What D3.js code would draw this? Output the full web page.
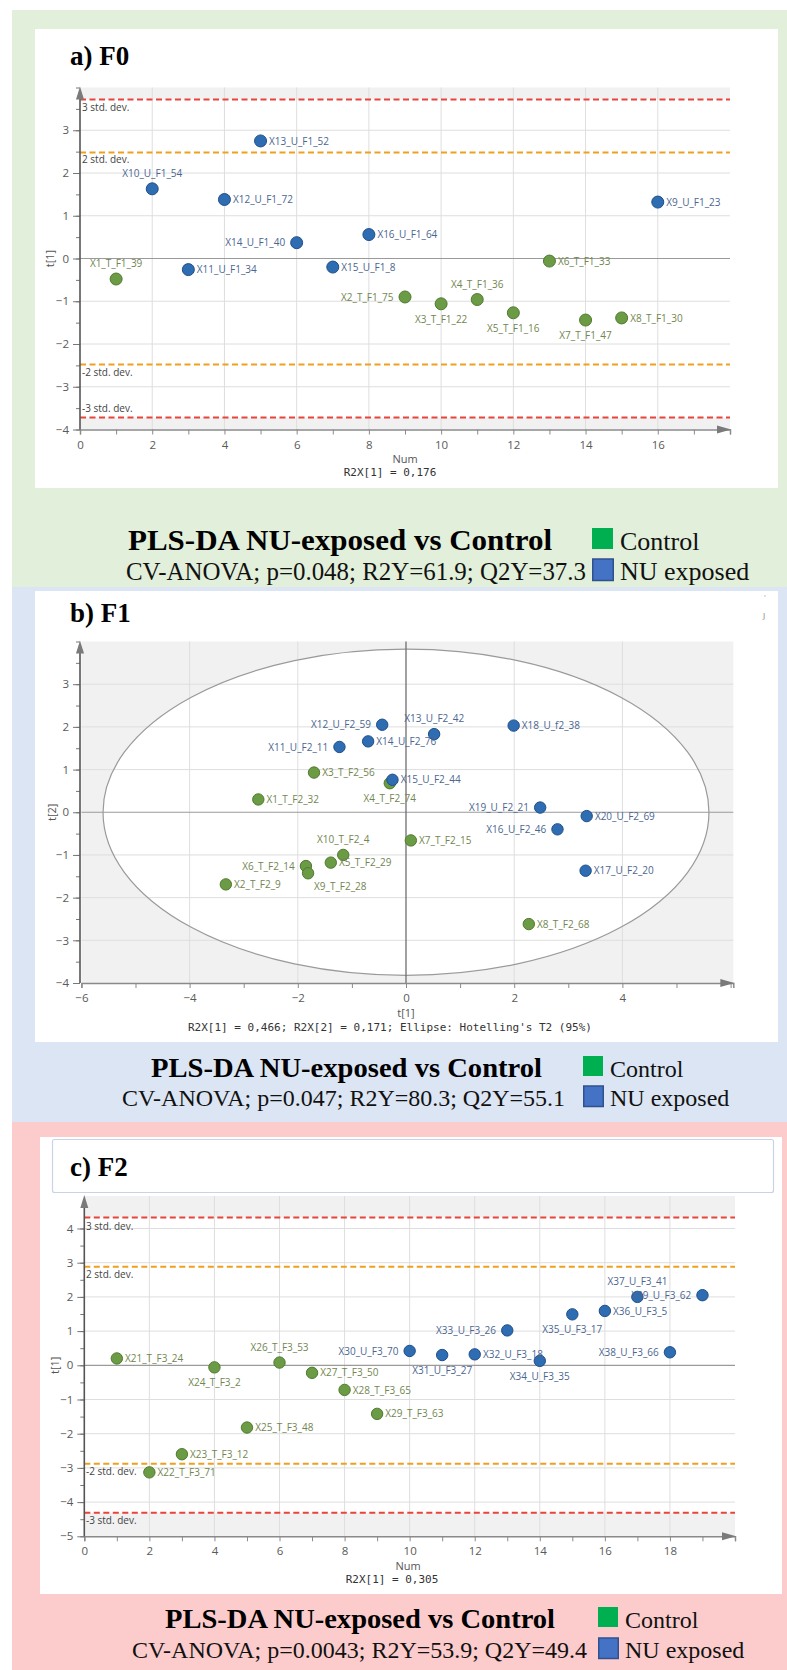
<!DOCTYPE html>
<html><head><meta charset="utf-8">
<script src="https://cdn.jsdelivr.net/npm/d3@7"></script>
<style>body{margin:0;background:#fff}svg{display:block}</style>
</head><body>
<svg id="chart" width="787" height="1670"></svg>
<script>
// ---------------- DATA ----------------
// Panel a) F0 : Num vs t[1]
const obsA   = ["X1_T_F1_39","X10_U_F1_54","X11_U_F1_34","X12_U_F1_72","X13_U_F1_52","X14_U_F1_40","X15_U_F1_8","X16_U_F1_64","X2_T_F1_75","X3_T_F1_22","X4_T_F1_36","X5_T_F1_16","X6_T_F1_33","X7_T_F1_47","X8_T_F1_30","X9_U_F1_23"];
const numA   = [1,2,3,4,5,6,7,8,9,10,11,12,13,14,15,16];
const t1A    = [-0.48,1.63,-0.26,1.38,2.75,0.37,-0.20,0.56,-0.90,-1.06,-0.96,-1.27,-0.06,-1.44,-1.39,1.32];
const groupA = ["Control","NU exposed","NU exposed","NU exposed","NU exposed","NU exposed","NU exposed","NU exposed","Control","Control","Control","Control","Control","Control","Control","NU exposed"];
const sdValuesA = [3.72, 2.48, -2.48, -3.72];
const xTicksA = [0,2,4,6,8,10,12,14,16];
const yTicksA = [-4,-3,-2,-1,0,1,2,3];

// Panel b) F1 : t[1] vs t[2]
const obsB   = ["X1_T_F2_32","X2_T_F2_9","X3_T_F2_56","X4_T_F2_74","X5_T_F2_29","X6_T_F2_14","X7_T_F2_15","X8_T_F2_68","X9_T_F2_28","X10_T_F2_4","X11_U_F2_11","X12_U_F2_59","X13_U_F2_42","X14_U_F2_76","X15_U_F2_44","X16_U_F2_46","X17_U_F2_20","X18_U_f2_38","X19_U_F2_21","X20_U_F2_69"];
const t1B    = [-2.73,-3.33,-1.70,-0.30,-1.39,-1.85,0.09,2.27,-1.81,-1.16,-1.23,-0.44,0.52,-0.70,-0.25,2.80,3.32,1.99,2.48,3.34];
const t2B    = [0.30,-1.69,0.93,0.68,-1.18,-1.26,-0.66,-2.62,-1.43,-1.00,1.53,2.05,1.83,1.66,0.76,-0.40,-1.37,2.03,0.11,-0.09];
const groupB = ["Control","Control","Control","Control","Control","Control","Control","Control","Control","Control","NU exposed","NU exposed","NU exposed","NU exposed","NU exposed","NU exposed","NU exposed","NU exposed","NU exposed","NU exposed"];
const ellipseB = [5.6, 3.82]; // Hotelling's T2 (95%) semi-axes on t[1], t[2]
const xTicksB = [-6,-4,-2,0,2,4];
const yTicksB = [-4,-3,-2,-1,0,1,2,3];

// Panel c) F2 : Num vs t[1]
const obsC   = ["X21_T_F3_24","X22_T_F3_71","X23_T_F3_12","X24_T_F3_2","X25_T_F3_48","X26_T_F3_53","X27_T_F3_50","X28_T_F3_65","X29_T_F3_63","X30_U_F3_70","X31_U_F3_27","X32_U_F3_18","X33_U_F3_26","X34_U_F3_35","X35_U_F3_17","X36_U_F3_5","X37_U_F3_41","X38_U_F3_66","X39_U_F3_62"];
const numC   = [1,2,3,4,5,6,7,8,9,10,11,12,13,14,15,16,17,18,19];
const t1C    = [0.20,-3.13,-2.60,-0.06,-1.82,0.08,-0.22,-0.72,-1.42,0.42,0.30,0.32,1.02,0.13,1.49,1.59,2.00,0.38,2.05];
const groupC = ["Control","Control","Control","Control","Control","Control","Control","Control","Control","NU exposed","NU exposed","NU exposed","NU exposed","NU exposed","NU exposed","NU exposed","NU exposed","NU exposed","NU exposed"];
const sdValuesC = [4.32, 2.88, -2.88, -4.31];
const xTicksC = [0,2,4,6,8,10,12,14,16,18];
const yTicksC = [-5,-4,-3,-2,-1,0,1,2,3,4];

const sdLabels = ["3 std. dev.","2 std. dev.","-2 std. dev.","-3 std. dev."];
const statsText = ["CV-ANOVA; p=0.048; R2Y=61.9; Q2Y=37.3","CV-ANOVA; p=0.047; R2Y=80.3; Q2Y=55.1","CV-ANOVA; p=0.0043; R2Y=53.9; Q2Y=49.4"];
const panelTitles = ["a) F0","b) F1","c) F2"];
const legendLabels = ["Control","NU exposed"];

// ---------------- STYLE (label placement, colours) ----------------
const placeA = ["above","above","right","right","right","left","right","right","left","below","above","below","right","below","right","right"];
const placeB = ["right","right","right","below","right","left","right","right","belowright","above","left","left","above","right","right","left","right","right","left","right"];
const placeC = ["right","right","right","below","right","above","right","right","right","left","below","right","left","below","below","right","above","left","left"];

const fillCol  = {"Control":"#6b9b45","NU exposed":"#2f6db3"};
const strokeCol= {"Control":"#4f7a2f","NU exposed":"#1f4e88"};
const textCol  = {"Control":"#72864f","NU exposed":"#4b6690"};
const SANS = "'Open Sans', 'Noto Sans', sans-serif";
const SERIF = "'Liberation Serif', 'Times New Roman', serif";
const MONO = "'DejaVu Sans Mono', 'Liberation Mono', monospace";

const svg = d3.select("#chart");

// ---------------- BACKGROUND PANELS ----------------
svg.append("rect").attr("x",12).attr("y",10).attr("width",775).attr("height",577).attr("fill","#e2efda");
svg.append("rect").attr("x",12).attr("y",587).attr("width",775).attr("height",535).attr("fill","#dbe5f3");
svg.append("rect").attr("x",12).attr("y",1122).attr("width",775).attr("height",548).attr("fill","#fccccc");
svg.append("rect").attr("x",35).attr("y",29).attr("width",743).attr("height",459).attr("fill","#fff");
svg.append("rect").attr("x",35).attr("y",591).attr("width",743).attr("height",451).attr("fill","#fff");
svg.append("rect").attr("x",40).attr("y",1137).attr("width",742).attr("height",457).attr("fill","#fff");
svg.append("rect").attr("x",52.5).attr("y",1139.5).attr("width",721).attr("height",53).attr("rx",2)
  .attr("fill","#fff").attr("stroke","#c8d4e6").attr("stroke-width",1.2);

// panel titles
[[70,65],[70,622],[70,1176]].forEach((p,i)=>{
  svg.append("text").attr("x",p[0]).attr("y",p[1]).text(panelTitles[i])
    .attr("font-family",SERIF).attr("font-weight","bold").attr("font-size",27).attr("fill","#000");
});
// small stray marks in panel b
svg.append("text").attr("x",764).attr("y",600).text("'").attr("font-family",SANS).attr("font-size",8).attr("fill","#999");
svg.append("text").attr("x",763).attr("y",618).text("J").attr("font-family",SANS).attr("font-size",8).attr("fill","#777");

// ---------------- HELPERS ----------------
function placeLabel(sel, r){
  sel.each(function(){
    const t = d3.select(this);
    const p = t.datum().place;
    if(p==="right"){ t.attr("dx", r+2.5).attr("dy",3.6).attr("text-anchor","start"); }
    else if(p==="left"){ t.attr("dx", -(r+5.5)).attr("dy",3.6).attr("text-anchor","end"); }
    else if(p==="above"){ t.attr("dx",0).attr("dy",-12).attr("text-anchor","middle"); }
    else if(p==="below"){ t.attr("dx",0).attr("dy",19).attr("text-anchor","middle"); }
    else if(p==="belowright"){ t.attr("dx",6).attr("dy",16.5).attr("text-anchor","start"); }
  });
}

function drawAxes(g, x, y, xTicks, yTicks, xMinor, yMinor, yAxisX, xAxisY){
  const x1 = x.range()[1];
  const yTop = y.range()[1];
  const xa = d3.axisBottom(x).tickValues(xMinor).tickSize(5).tickFormat("");
  const gx = g.append("g").attr("transform",`translate(0,${xAxisY})`).call(xa);
  gx.select(".domain").attr("stroke","#8a8a8a").attr("stroke-width",1.5);
  gx.selectAll(".tick line").attr("stroke","#8a8a8a");
  const xl = d3.axisBottom(x).tickValues(xTicks).tickSize(0).tickPadding(11).tickFormat(d3.format("d"));
  const gxl = g.append("g").attr("transform",`translate(0,${xAxisY})`).call(xl);
  gxl.select(".domain").remove();
  gxl.selectAll("text").attr("font-family",SANS).attr("font-size",11.5).attr("fill","#5a5a5a");
  g.append("path").attr("d",`M${x1+1},${xAxisY} L${x1-13},${xAxisY-4} L${x1-13},${xAxisY+4} Z`).attr("fill","#7a7a7a");
  const ya = d3.axisLeft(y).tickValues(yMinor).tickSize(4).tickFormat("");
  const gy = g.append("g").attr("transform",`translate(${yAxisX},0)`).call(ya);
  gy.select(".domain").remove();
  gy.selectAll(".tick line").attr("stroke","#777");
  const yl = d3.axisLeft(y).tickValues(yTicks).tickSize(7).tickPadding(4).tickFormat(d3.format("d"));
  const gyl = g.append("g").attr("transform",`translate(${yAxisX},0)`).call(yl);
  gyl.select(".domain").remove();
  gyl.selectAll(".tick line").attr("stroke","#777");
  gyl.selectAll("text").attr("font-family",SANS).attr("font-size",11.5).attr("fill","#5a5a5a");
  g.append("line").attr("x1",yAxisX).attr("x2",yAxisX).attr("y1",yTop+6).attr("y2",xAxisY)
    .attr("stroke","#555").attr("stroke-width",1.6);
  g.append("path").attr("d",`M${yAxisX},${yTop-1} L${yAxisX-4},${yTop+12} L${yAxisX+4},${yTop+12} Z`).attr("fill","#7a7a7a");
}

function drawPoints(g, x, y, xs, ys, names, groups, places, r){
  const data = names.map((n,i)=>({name:n, xv:xs[i], yv:ys[i], grp:groups[i], place:places[i]}));
  g.selectAll("circle.pt").data(data).join("circle").attr("class","pt")
    .attr("cx",d=>x(d.xv)).attr("cy",d=>y(d.yv)).attr("r",r)
    .attr("fill",d=>fillCol[d.grp]).attr("stroke",d=>strokeCol[d.grp]).attr("stroke-width",1);
  const lab = g.selectAll("text.lab").data(data).join("text").attr("class","lab")
    .attr("x",d=>x(d.xv)).attr("y",d=>y(d.yv)).text(d=>d.name)
    .attr("font-family",SANS).attr("font-size",10).attr("fill",d=>textCol[d.grp]);
  placeLabel(lab, r);
}

function range(a,b,s){ const out=[]; for(let v=a; v<=b+1e-9; v+=s) out.push(+v.toFixed(4)); return out; }

function drawStdPanel(cfg){
  const g = svg.append("g");
  const x = d3.scaleLinear().domain(cfg.xDomain).range(cfg.xRange);
  const y = d3.scaleLinear().domain(cfg.yDomain).range(cfg.yRange);
  const [px0,px1] = cfg.xRange, pyB = cfg.yRange[0], pyT = cfg.yRange[1];
  g.append("rect").attr("x",px0).attr("y",pyT).attr("width",px1-px0).attr("height",pyB-pyT).attr("fill","#f1f1f1");
  g.append("rect").attr("x",px0).attr("y",y(cfg.sd[0])).attr("width",px1-px0).attr("height",y(cfg.sd[3])-y(cfg.sd[0])).attr("fill","#fff");
  g.selectAll("line.gv").data(cfg.xTicks.filter(v=>v>cfg.xDomain[0])).join("line")
    .attr("x1",d=>x(d)).attr("x2",d=>x(d)).attr("y1",pyT).attr("y2",pyB).attr("stroke","#dedede");
  g.selectAll("line.gh").data(cfg.yTicks.filter(v=>v!==0 && v>cfg.yDomain[0])).join("line")
    .attr("x1",px0).attr("x2",px1).attr("y1",d=>y(d)).attr("y2",d=>y(d)).attr("stroke","#dedede");
  g.append("line").attr("x1",px0).attr("x2",px1).attr("y1",y(0)).attr("y2",y(0)).attr("stroke","#9a9a9a").attr("stroke-width",1.2);
  const sdCol = ["#e8443a","#f0a01e","#f0a01e","#e8443a"];
  cfg.sd.forEach((v,i)=>{
    g.append("line").attr("x1",px0).attr("x2",px1).attr("y1",y(v)).attr("y2",y(v))
      .attr("stroke",sdCol[i]).attr("stroke-width",2).attr("stroke-dasharray","6,3.5");
    g.append("text").attr("x",cfg.sdLabelX).attr("y",y(v)+cfg.sdLabelDy[i]).text(sdLabels[i])
      .attr("font-family",SANS).attr("font-size",10).attr("fill","#444");
  });
  drawAxes(g, x, y, cfg.xTicks, cfg.yTicks, range(cfg.xDomain[0], Math.floor(cfg.xDomain[1]),1),
           range(cfg.yDomain[0], Math.floor(cfg.yDomain[1]),0.5), px0, pyB);
  g.append("text").attr("transform",`translate(${cfg.yTitleX},${y(0)}) rotate(-90)`).attr("text-anchor","middle")
    .attr("dy",4).text("t[1]").attr("font-family",SANS).attr("font-size",11).attr("fill","#555");
  g.append("text").attr("x",cfg.numX).attr("y",cfg.numY).attr("text-anchor","middle").text("Num")
    .attr("font-family",SANS).attr("font-size",11).attr("fill","#555");
  g.append("text").attr("x",cfg.r2X).attr("y",cfg.numY+12.5).attr("text-anchor","middle").text(cfg.r2Text)
    .attr("font-family",MONO).attr("font-size",11).attr("fill","#333");
  drawPoints(g, x, y, cfg.xs, cfg.ys, cfg.names, cfg.groups, cfg.places, cfg.r);
}

function drawFooter(i, f){
  const title = "PLS-DA NU-exposed vs Control";
  svg.append("text").attr("x",f.titleX).attr("y",f.base1).text(title)
    .attr("font-family",SERIF).attr("font-weight","bold").attr("font-size",f.titleSize)
    .attr("textLength",f.titleLen).attr("lengthAdjust","spacingAndGlyphs").attr("fill","#000");
  svg.append("text").attr("x",f.cvX).attr("y",f.base2).text(statsText[i])
    .attr("font-family",SERIF).attr("font-size",f.cvSize)
    .attr("textLength",f.cvLen).attr("lengthAdjust","spacingAndGlyphs").attr("fill","#111");
  const s = f.sq;
  svg.append("rect").attr("x",f.sqX).attr("y",f.base1-s-1).attr("width",s).attr("height",s).attr("fill","#00b050");
  svg.append("rect").attr("x",f.sqX+0.75).attr("y",f.base2-s).attr("width",s-0.5).attr("height",s+0.5)
    .attr("fill","#4472c4").attr("stroke","#2f528f").attr("stroke-width",1.5);
  svg.append("text").attr("x",f.sqX+s+7).attr("y",f.base1).text(legendLabels[0])
    .attr("font-family",SERIF).attr("font-size",f.legSize).attr("fill","#111");
  svg.append("text").attr("x",f.sqX+s+7).attr("y",f.base2).text(legendLabels[1])
    .attr("font-family",SERIF).attr("font-size",f.legSize).attr("fill","#111");
}

// ---------------- PANEL A ----------------
drawStdPanel({
  xDomain:[0,18], xRange:[80,730], yDomain:[-4,4], yRange:[429.5,87.5],
  sd:sdValuesA, sdLabelX:82, sdLabelDy:[12,11,11,-5.5],
  xTicks:xTicksA, yTicks:yTicksA, yTitleX:50, numX:405, numY:463, r2X:390, r2Text:"R2X[1] = 0,176",
  xs:numA, ys:t1A, names:obsA, groups:groupA, places:placeA, r:6
});
drawFooter(0, {titleX:128, titleLen:424, titleSize:30, cvX:126, cvLen:460, cvSize:24.5,
               base1:550, base2:580, sqX:592, sq:21, legSize:26});

// ---------------- PANEL B ----------------
(function(){
  const g = svg.append("g");
  const x = d3.scaleLinear().domain([-6,6.05]).range([81.4,733.3]);
  const y = d3.scaleLinear().domain([-4,4]).range([983,641.5]);
  const px0=81.4, px1=733.3, pyT=641.5, pyB=983;
  g.append("rect").attr("x",px0).attr("y",pyT).attr("width",px1-px0).attr("height",pyB-pyT).attr("fill","#f1f1f1");
  g.append("ellipse").attr("cx",x(0)).attr("cy",y(0)).attr("rx",x(ellipseB[0])-x(0)).attr("ry",y(0)-y(ellipseB[1])).attr("fill","#fff");
  g.selectAll("line.gv").data(xTicksB.filter(v=>v!==0 && v>-6)).join("line")
    .attr("x1",d=>x(d)).attr("x2",d=>x(d)).attr("y1",pyT).attr("y2",pyB).attr("stroke","#dedede");
  g.selectAll("line.gh").data(yTicksB.filter(v=>v!==0 && v>-4)).join("line")
    .attr("x1",px0).attr("x2",px1).attr("y1",d=>y(d)).attr("y2",d=>y(d)).attr("stroke","#dedede");
  g.append("ellipse").attr("cx",x(0)).attr("cy",y(0)).attr("rx",x(ellipseB[0])-x(0)).attr("ry",y(0)-y(ellipseB[1]))
    .attr("fill","none").attr("stroke","#9a9a9a").attr("stroke-width",1.2);
  g.append("line").attr("x1",px0).attr("x2",px1).attr("y1",y(0)).attr("y2",y(0)).attr("stroke","#9a9a9a").attr("stroke-width",1.2);
  g.append("line").attr("x1",x(0)).attr("x2",x(0)).attr("y1",pyT).attr("y2",pyB).attr("stroke","#6f6f6f").attr("stroke-width",1.3);
  drawAxes(g, x, y, xTicksB, yTicksB, range(-6,6,1), range(-4,4,0.5), 80, pyB);
  g.append("text").attr("transform",`translate(52,${y(0)}) rotate(-90)`).attr("text-anchor","middle")
    .attr("dy",4).text("t[2]").attr("font-family",SANS).attr("font-size",11).attr("fill","#555");
  g.append("text").attr("x",x(0)).attr("y",1017).attr("text-anchor","middle").text("t[1]")
    .attr("font-family",SANS).attr("font-size",11).attr("fill","#555");
  g.append("text").attr("x",390).attr("y",1031).attr("text-anchor","middle")
    .text("R2X[1] = 0,466; R2X[2] = 0,171; Ellipse: Hotelling's T2 (95%)")
    .attr("font-family",MONO).attr("font-size",11).attr("fill","#333");
  drawPoints(g, x, y, t1B, t2B, obsB, groupB, placeB, 5.7);
})();
drawFooter(1, {titleX:151, titleLen:391, titleSize:28, cvX:122, cvLen:443, cvSize:23,
               base1:1077, base2:1106, sqX:583, sq:20, legSize:24});

// ---------------- PANEL C ----------------
drawStdPanel({
  xDomain:[0,20], xRange:[84.3,735], yDomain:[-5,4.95], yRange:[1536.3,1196],
  sd:sdValuesC, sdLabelX:86, sdLabelDy:[12,11,11,11],
  xTicks:xTicksC, yTicks:yTicksC, yTitleX:55, numX:408, numY:1570, r2X:392, r2Text:"R2X[1] = 0,305",
  xs:numC, ys:t1C, names:obsC, groups:groupC, places:placeC, r:5.7
});
drawFooter(2, {titleX:165, titleLen:390, titleSize:28, cvX:132, cvLen:455, cvSize:23,
               base1:1628, base2:1658, sqX:598, sq:20, legSize:24});
</script>
</body></html>
